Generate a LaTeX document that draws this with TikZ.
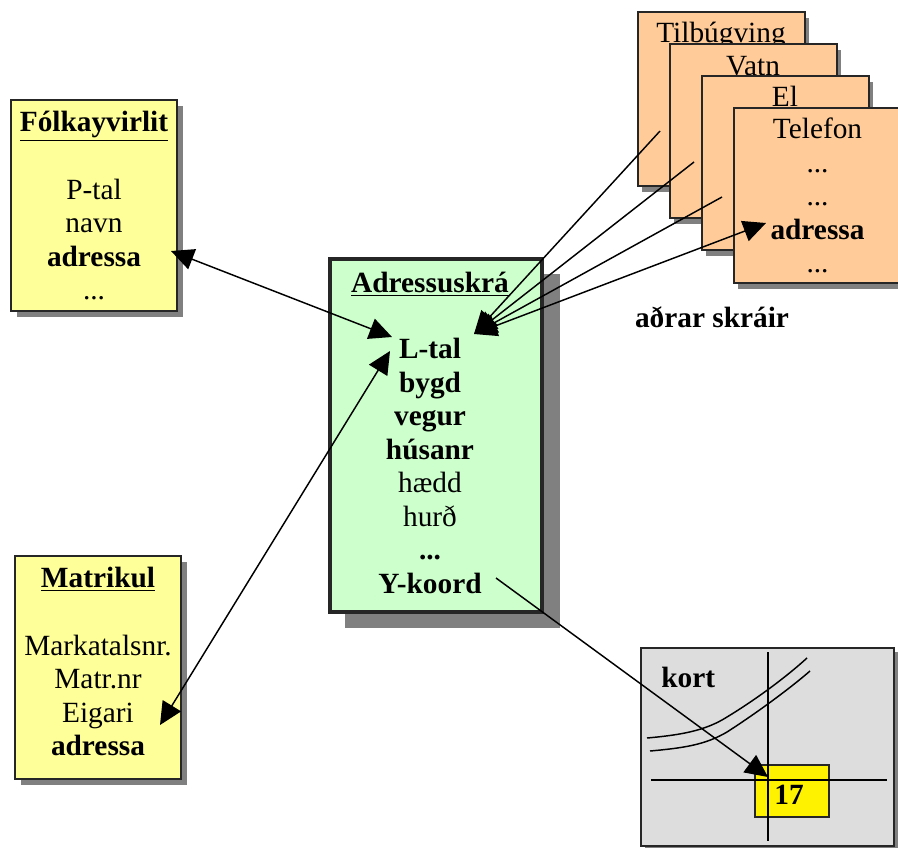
\documentclass[tikz,border=0pt]{standalone}
\usepackage{fontspec}
\setmainfont{Liberation Serif}
\usetikzlibrary{arrows.meta}
\definecolor{yellowbox}{HTML}{FFFF99}
\definecolor{greenbox}{HTML}{CCFFCC}
\definecolor{orangebox}{HTML}{FFCC99}
\definecolor{greybox}{HTML}{DDDDDD}
\definecolor{shadowgrey}{HTML}{808080}
\tikzset{
  x=0.75pt,y=-0.75pt,
  panel/.style={draw=black!85,line width=1.5pt*0.75,anchor=north west,inner sep=0pt,outer sep=0pt},
  shade box/.style={fill=shadowgrey,draw=none,anchor=north west,inner sep=0pt,outer sep=0pt},
  lines/.style={font=\fontsize{22}{25.1}\selectfont,align=center,anchor=north,inner sep=0pt},
  single/.style={font=\fontsize{22}{25.1}\selectfont\bfseries,inner sep=0pt},
  link/.style={line width=1.1pt,draw=black},
  tip/.style={line width=1.1pt,-{Triangle[length=17pt,width=16pt]}},
  both/.style={line width=1.1pt,{Triangle[length=17pt,width=16pt]}-{Triangle[length=17pt,width=16pt]}},
}
\newcommand{\boxat}[6]{% name, x, y, w, h, fill
  \node[panel,fill=#6,minimum width=#4*0.75pt,minimum height=#5*0.75pt] (#1) at (#2,#3) {};}
\newcommand{\shadeat}[6]{% name, x, y, w, h, unused
  \node[shade box,minimum width=#4*0.75pt,minimum height=#5*0.75pt] (#1) at (#2,#3) {};}
\begin{document}
\begin{tikzpicture}
\useasboundingbox (0,0) rectangle (898,847);
\clip (0,0) rectangle (898,847);
\fill[white] (0,0) rectangle (898,847);

% left boxes
\shadeat{s1}{17}{106}{166}{211}{}
\boxat{fol}{11}{100}{166}{211}{yellowbox}
\node[lines] (folt) at (94,111) {\textbf{\underline{Fólkayvirlit}}\\[25.5pt]P-tal\\navn\\\textbf{adressa}\\...};

\shadeat{s2}{21}{562}{166}{223}{}
\boxat{mat}{15}{556}{166}{223}{yellowbox}
\node[lines] (matt) at (98,567) {\textbf{\underline{Matrikul}}\\[25.5pt]Markatalsnr.\\Matr.nr\\Eigari\\\textbf{adressa}};

% central box
\shadeat{s3}{345}{274}{215}{354}{}
\node[panel,line width=2.3pt,fill=greenbox,minimum width=159pt,minimum height=264.75pt] (adr) at (330,259) {};
\node[lines] (adrt) at (430,272) {\textbf{\underline{Adressuskrá}}\\[24.5pt]\textbf{L-tal}\\\textbf{bygd}\\\textbf{vegur}\\\textbf{húsanr}\\hædd\\hurð\\\textbf{...}\\\textbf{Y-koord}};

% stacked sheets
\shadeat{s4}{642}{18}{167}{174}{}
\boxat{til}{638}{12}{167}{174}{orangebox}
\node[lines] (tilt) at (721,22) {Tilbúgving};
\shadeat{s5}{674}{50}{167}{174}{}
\boxat{vat}{670}{44}{167}{174}{orangebox}
\node[lines] (vatt) at (753,56) {Vatn};
\shadeat{s6}{706}{82}{167}{174}{}
\boxat{el}{702}{76}{167}{174}{orangebox}
\node[lines] (elt) at (785,86) {El};
\shadeat{s7}{738}{114}{190}{175}{}
\boxat{tel}{734}{108}{190}{175}{orangebox}
\node[lines] (telt) at (817.5,118) {Telefon\\...\\...\\\textbf{adressa}\\...};
\node[single] (adr2) at (712,317) {aðrar skráir};

% map
\shadeat{s8}{645}{652}{253}{198}{}
\boxat{kort}{641}{648}{253}{198}{greybox}
\node[single,anchor=base west] (kortt) at (661,687) {kort};
\boxat{sq}{755}{765}{74}{52}{yellow}
\node[single,anchor=base] (n17) at (789,804) {17};
\coordinate (v1) at (768,652); \coordinate (v2) at (768,841);
\coordinate (h1) at (651,780); \coordinate (h2) at (887,780);
\draw[link] (v1) -- (v2);
\draw[link] (h1) -- (h2);
\coordinate (ra1) at (647,738); \coordinate (ra2) at (807,658);
\coordinate (rb1) at (650,751); \coordinate (rb2) at (810,671);
\draw[link] (ra1) .. controls (680,735) and (705,731) .. (727,717) .. controls (755,700) and (785,678) .. (ra2);
\draw[link] (rb1) .. controls (683,748) and (705,745) .. (727,732) .. controls (755,714) and (788,690) .. (rb2);

% connectors
\coordinate (hub) at (474,334);
\coordinate (t1) at (660,131);
\coordinate (t2) at (694,162);
\coordinate (t3) at (722,197);
\coordinate (t4) at (766,223);
\coordinate (fa) at (171,251);
\coordinate (la) at (392,337);
\coordinate (lb) at (390,351);
\coordinate (ma) at (160,725);
\coordinate (yk) at (496,578);
\coordinate (pt) at (768,777);
\draw[both] (fa) -- (la);
\draw[both] (ma) -- (lb);
\draw[tip] (t1) -- (hub);
\draw[tip] (t2) -- (hub);
\draw[tip] (t3) -- (hub);
\draw[both] (hub) -- (t4);
\draw[tip] (yk) -- (pt);
\end{tikzpicture}
\end{document}
